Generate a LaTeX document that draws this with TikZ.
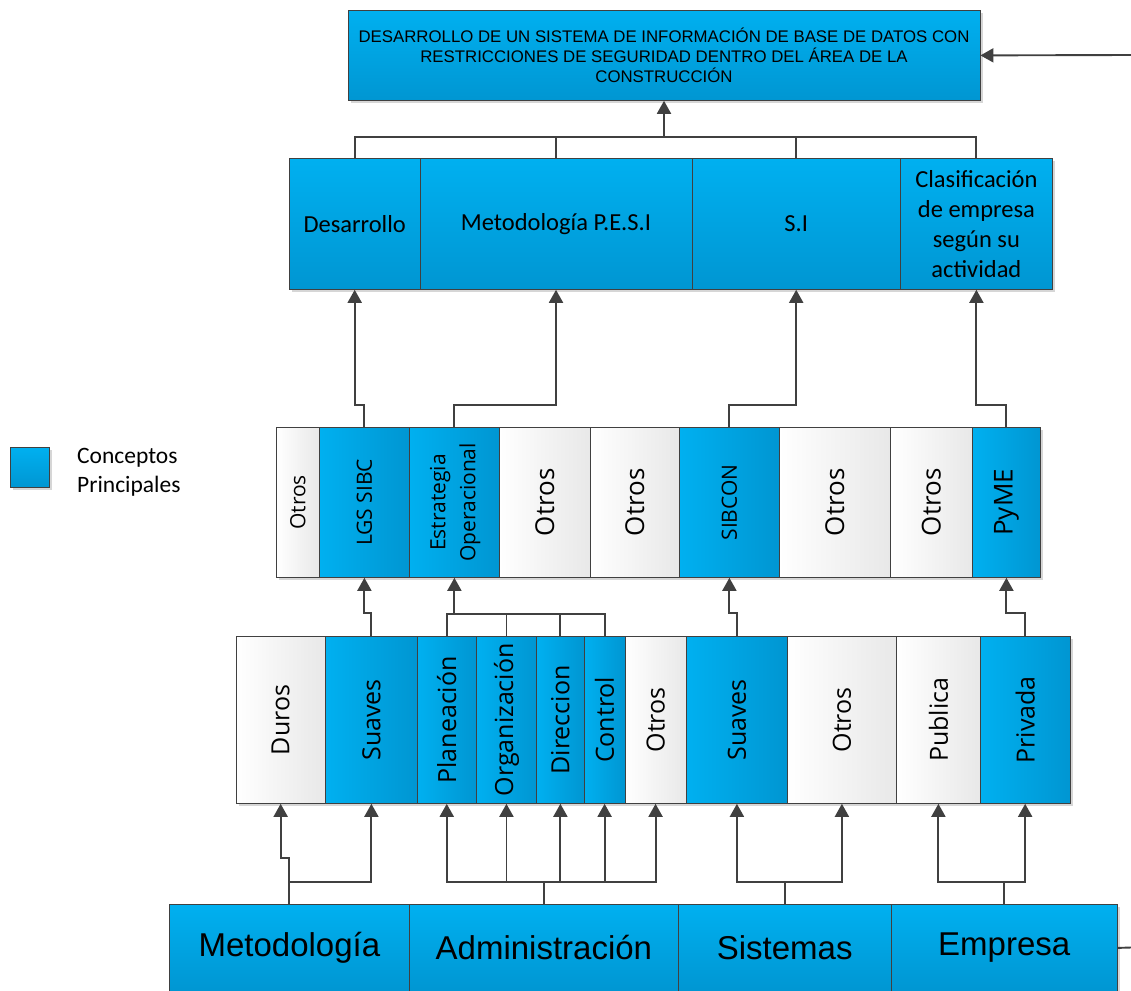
\documentclass[tikz,border=0pt]{standalone}
\usepackage{fontspec}
\setmainfont{Liberation Sans}
\newfontfamily\calibrifont{Carlito}
\newfontfamily\uifont{Open Sans}
\usetikzlibrary{arrows.meta,calc,shadows}

\definecolor{bluetop}{RGB}{0,176,240}
\definecolor{bluebot}{RGB}{0,150,210}
\definecolor{edgegrey}{RGB}{64,64,64}
\definecolor{greyend}{RGB}{232,232,232}

\begin{document}
\begin{tikzpicture}[x=1pt,y=-1pt,
  box/.style={draw=edgegrey, line width=0.8pt, inner sep=0pt, anchor=north west,
    drop shadow={shadow xshift=3pt, shadow yshift=-3pt, fill=black!16, opacity=1}},
  bluev/.style={box, top color=bluetop, bottom color=bluebot},
  blueh/.style={box, left color=bluetop, right color=bluebot},
  whiteh/.style={box, left color=white, right color=greyend},
  rowthree/.style={minimum height=150pt},
  rowfour/.style={minimum height=167pt, font=\uifont\fontsize{25}{30}\selectfont},
  rowtwo/.style={minimum height=131pt, font=\calibrifont\fontsize{24.5}{30}\selectfont, align=center},
  base/.style={minimum height=87pt, font=\fontsize{33}{38}\selectfont},
  small/.style={font=\uifont\fontsize{21}{30}\selectfont},
  large/.style={font=\uifont\fontsize{26}{30}\selectfont},
  link/.style={draw=edgegrey, line width=1.9pt},
  arr/.style={link, -{Triangle[length=13pt,width=14pt]}},
]
\useasboundingbox (0,0) rectangle (1131,990);

% goal
\node[bluev, minimum width=632pt, minimum height=90pt, align=center,
  font=\fontsize{16.8}{20}\selectfont] (top) at (347.6,10)
  {DESARROLLO DE UN SISTEMA DE INFORMACIÓN DE BASE DE DATOS CON\\
   RESTRICCIONES DE SEGURIDAD DENTRO DEL ÁREA DE LA\\
   CONSTRUCCIÓN};

% second level
\node[bluev, rowtwo, minimum width=130.6pt] (desa) at (289,158) {Desarrollo};
\node[bluev, rowtwo, minimum width=272pt] (meto) at (419.6,158) {Metodología P.E.S.I};
\node[bluev, rowtwo, minimum width=208.4pt] (si) at (691.6,158) {S.I};
\node[bluev, rowtwo, minimum width=152pt] (clas) at (900,158)
  {Clasificación\\de empresa\\según su\\actividad};

% third level
\node[whiteh, rowthree, small, minimum width=43pt] (o1) at (276,427) {\rotatebox{90}{Otros}};
\node[blueh, rowthree, small, minimum width=90pt] (lgs) at (319,427) {\rotatebox{90}{LGS SIBC}};
\node[blueh, rowthree, small, minimum width=90pt] (estr) at (409,427)
  {\rotatebox{90}{\begin{tabular}{@{}c@{}}Estrategia\\Operacional\end{tabular}}};
\node[whiteh, rowthree, large, minimum width=91pt] (o2) at (499,427) {\rotatebox{90}{Otros}};
\node[whiteh, rowthree, large, minimum width=89pt] (o3) at (590,427) {\rotatebox{90}{Otros}};
\node[blueh, rowthree, small, minimum width=100pt] (sibcon) at (679,427) {\rotatebox{90}{SIBCON}};
\node[whiteh, rowthree, large, minimum width=111pt] (o4) at (779,427) {\rotatebox{90}{Otros}};
\node[whiteh, rowthree, large, minimum width=82pt] (o5) at (890,427) {\rotatebox{90}{Otros}};
\node[blueh, rowthree, large, minimum width=68pt] (pyme) at (972,427) {\rotatebox{90}{PyME}};

% fourth level
\node[whiteh, rowfour, minimum width=89.5pt] (duros) at (235.5,636) {\rotatebox{90}{Duros}};
\node[blueh, rowfour, minimum width=92pt] (suav1) at (325,636) {\rotatebox{90}{Suaves}};
\node[blueh, rowfour, minimum width=58.7pt] (plan) at (417,636) {\rotatebox{90}{Planeación}};
\node[blueh, rowfour, minimum width=60.7pt] (org) at (475.7,636) {\rotatebox{90}{Organización}};
\node[blueh, rowfour, minimum width=47.2pt] (dir) at (536.4,636) {\rotatebox{90}{Direccion}};
\node[blueh, rowfour, minimum width=41.2pt] (ctrl) at (583.6,636) {\rotatebox{90}{Control}};
\node[whiteh, rowfour, minimum width=60.7pt] (otr) at (624.8,636) {\rotatebox{90}{Otros}};
\node[blueh, rowfour, minimum width=101pt] (suav2) at (686,636) {\rotatebox{90}{Suaves}};
\node[whiteh, rowfour, minimum width=109pt] (otr2) at (787,636) {\rotatebox{90}{Otros}};
\node[whiteh, rowfour, minimum width=84pt] (pub) at (896,636) {\rotatebox{90}{Publica}};
\node[blueh, rowfour, minimum width=89.5pt] (priv) at (980,636) {\rotatebox{90}{Privada}};

% base level
\node[bluev, base, minimum width=240pt] (metod) at (169,904) {Metodología};
\node[bluev, base, minimum width=269pt] (admin) at (409,904) {Administración};
\node[bluev, base, minimum width=212.6pt] (sist) at (678,904) {Sistemas};
\node[bluev, base, minimum width=226.4pt] (emp) at (890.6,904) {Empresa};

% legend
\node[bluev, minimum width=39pt, minimum height=40pt] (legbox) at (10,447) {};
\node[anchor=west, inner sep=0pt, align=left,
  font=\calibrifont\fontsize{23.5}{29}\selectfont] (legtxt) at (77,472.5)
  {Conceptos\\Principales};

% second level -> goal
\coordinate (hub1) at ($(top.south)+(0,36)$);
\draw[link] (desa.north) |- (hub1);
\draw[link] (meto.north) |- (hub1);
\draw[link] (si.north) |- (hub1);
\draw[link] (clas.north) |- (hub1);
\draw[arr] (hub1) -- (top.south);

% third level -> second level
\draw[arr] (lgs.north) -- ++(0,-22) -| (desa.south);
\draw[arr] (estr.north) -- ++(0,-22) -| (meto.south);
\draw[arr] (sibcon.north) -- ++(0,-22) -| (si.south);
\draw[arr] (pyme.north) -- ++(0,-22) -| (clas.south);

% fourth level -> third level
\draw[arr] (suav1.north) -- ++(0,-23) -| (lgs.south);
\coordinate (hub2) at ($(estr.south)+(0,36)$);
\draw[link] (plan.north) |- (hub2);
\draw[link] (org.north) |- (hub2);
\draw[link] (dir.north) |- (hub2);
\draw[link] (ctrl.north) |- (hub2);
\draw[arr] (hub2) -- (estr.south);
\draw[arr] (suav2.north) -- ++(0,-23) -| (sibcon.south);
\draw[arr] (priv.north) -- ++(0,-23) -| (pyme.south);

% base level -> fourth level
\coordinate (hubM) at ($(metod.north)+(0,-22)$);
\draw[link] (metod.north) -- (hubM);
\draw[arr] (hubM) -- ++(0,-24) -| (duros.south);
\draw[arr] (hubM) -| (suav1.south);

\coordinate (hubA) at ($(admin.north)+(0,-22)$);
\draw[link] (admin.north) -- (hubA);
\foreach \n in {plan,org,dir,ctrl,otr} \draw[arr] (hubA) -| (\n.south);

\coordinate (hubS) at ($(sist.north)+(0,-22)$);
\draw[link] (sist.north) -- (hubS);
\draw[arr] (hubS) -| (suav2.south);
\draw[arr] (hubS) -| (otr2.south);

\coordinate (hubE) at ($(emp.north)+(0,-22)$);
\draw[link] (emp.north) -- (hubE);
\draw[arr] (hubE) -| (pub.south);
\draw[arr] (hubE) -| (priv.south);

% lines leaving the page on the right
\coordinate (inR) at (1131,55);
\draw[arr] (inR) -- (top.east);
\coordinate (outR) at (1131,947.5);
\draw[link] (emp.east) -- (outR);
\end{tikzpicture}
\end{document}
